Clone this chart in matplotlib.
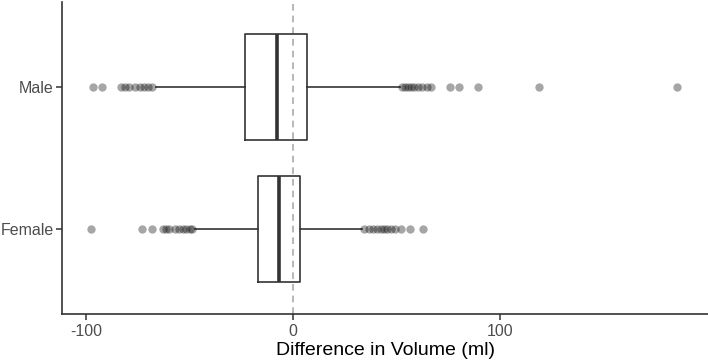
import numpy as np
import matplotlib.pyplot as plt

plt.rcParams['font.family'] = ['Liberation Sans', 'DejaVu Sans']

groups = ['Female', 'Male']
q1 = [-17.0, -23.0]
med = [-6.8, -7.8]
q3 = [3.4, 6.8]
whislo = [-47.5, -66.2]
whishi = [33.3, 51.7]
fliers_female = [-97.6, -73.0, -68.0, -63.0, -61.5, -60.0, -57.0, -55.0,
                 -53.0, -51.5, -50.0, -49.0,
                 34.5, 36.5, 38.5, 40.5, 42.5, 44.0, 45.5, 47.5, 49.5, 52.0,
                 56.5, 62.8]
fliers_male = [-96.6, -92.3, -83.0, -81.0, -79.0, -76.5, -74.0, -72.0, -70.0, -68.0,
               52.5, 54.0, 55.5, 57.0, 58.5, 60.5, 62.5, 64.5, 66.5,
               75.8, 80.2, 89.4, 118.8, 185.3]
fliers = [fliers_female, fliers_male]

stats = []
for i, g in enumerate(groups):
    stats.append({'label': g, 'q1': q1[i], 'med': med[i], 'q3': q3[i],
                  'whislo': whislo[i], 'whishi': whishi[i], 'fliers': fliers[i]})

fig = plt.figure(figsize=(7.08, 3.61), dpi=100)
ax = fig.add_axes([0.0876, 0.130, 0.9124, 0.8645])

ax.axvline(0, color='#aaaaaa', lw=1.2, ls=(0, (4, 3)), zorder=1)

line = dict(color='#333333', lw=1.2)
ax.bxp(stats, positions=[1, 2], widths=0.75, vert=False, showcaps=False,
       boxprops=line, whiskerprops=line,
       medianprops=dict(color='#333333', lw=2.6),
       flierprops=dict(marker='o', markersize=6, markerfacecolor='black',
                       markeredgecolor='none', alpha=0.35),
       manage_ticks=False, zorder=2)

ax.set_xlim(-111.6, 200.5)
ax.set_ylim(0.4, 2.6)
ax.set_xticks([-100, 0, 100])
ax.set_xticklabels(['-100', '0', '100'])
ax.set_yticks([1, 2])
ax.set_yticklabels(groups)
ax.tick_params(axis='both', colors='#333333', labelcolor='#4d4d4d',
               labelsize=11.5, length=4, width=1.1)
ax.tick_params(axis='y', pad=2)
ax.set_xlabel('Difference in Volume (ml)', fontsize=14, color='black', labelpad=2)

for s in ['top', 'right']:
    ax.spines[s].set_visible(False)
for s in ['left', 'bottom']:
    ax.spines[s].set_color('#333333')
    ax.spines[s].set_linewidth(1.2)

fig.savefig('out.png', dpi=100)
